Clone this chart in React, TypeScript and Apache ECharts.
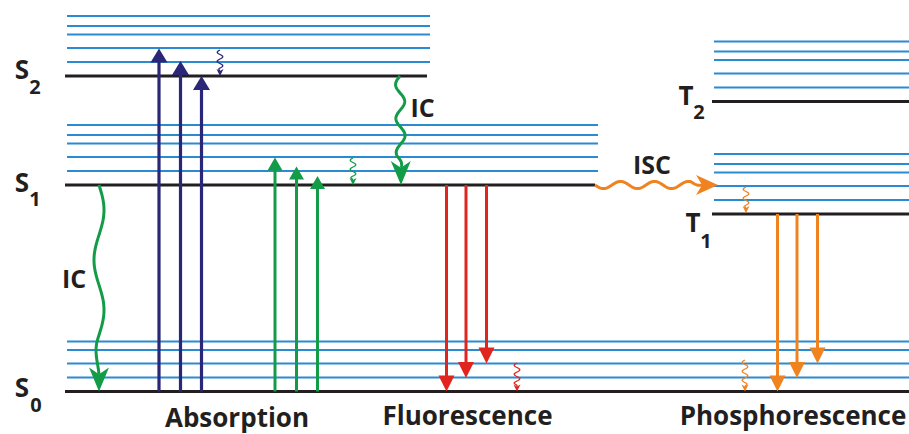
import React, { useEffect, useRef } from "react";
import * as echarts from "echarts";

// ---- Data (x in diagram units, energy in arbitrary units) ----
const levelNames = ["S0", "S1", "S2", "T1", "T2"];
const levelEnergy = [0, 206.5, 315.5, 177.5, 290];
const levelStart = [65, 65, 65, 712, 712];
const levelEnd = [909, 595, 427, 909, 909];
const vibEnd = [909, 598, 430, 909, 909];
const vibOffsets = [14, 28, 41.5, 50, 60];
const vibCounts = [4, 5, 5, 5, 5];

const absS2X = [159, 180.5, 201.5];
const absS2Top = [343, 330.5, 315.5];
const absS1X = [275, 296.5, 317.5];
const absS1Top = [234, 225, 215.5];
const fluorX = [446.5, 466, 486.5];
const fluorBottom = [0, 13.5, 28];
const phosX = [777.5, 797, 817.5];
const phosBottom = [0, 13.5, 28];

// vibrational relaxation
const vrX = [220, 353, 517, 746, 745];
const vrFrom = [341.5, 233.5, 28.5, 204.5, 31.5];
const vrTo = [315.5, 206.5, 0, 178.5, 0];

// internal conversion / intersystem crossing
const icX0 = [400, 99];
const icE0 = [315.5, 206.5];
const icX1 = [401, 99];
const icE1 = [206.5, 0];
const iscX = [595, 718];
const iscE = [206.5, 206.5];

const processLabels = ["Absorption", "Fluorescence", "Phosphorescence"];
const transferLabels = ["IC", "IC", "ISC"];

// ---- Styles ----
const FONT = "'Open Sans', 'Noto Sans', sans-serif";
const BLACK = "#231f20";
const BLUE = "#2a8bd2";
const NAVY = "#2a2778";
const GREEN = "#129c48";
const RED = "#e0251f";
const ORANGE = "#ef8320";
const vrColors = [NAVY, GREEN, RED, ORANGE, ORANGE];

const labelX = [22, 22, 22, 693, 686];
const labelDy = [-5, -3, -7, 8, -7];
const subDx = [14, 13, 13, 13, 13];
const subDy = [13, 13, 10, 26, 10];

function arrowHead(p1: number[], ux: number, uy: number, hl: number, hw: number, notch: boolean) {
  const px = -uy, py = ux;
  const bx = p1[0] - ux * hl, by = p1[1] - uy * hl;
  const c1 = [bx + (px * hw) / 2, by + (py * hw) / 2];
  const c2 = [bx - (px * hw) / 2, by - (py * hw) / 2];
  if (notch) {
    const n = [p1[0] - ux * hl * 0.72, p1[1] - uy * hl * 0.72];
    return [[p1[0], p1[1]], c1, n, c2];
  }
  return [[p1[0], p1[1]], c1, c2];
}

function straightArrow(p0: number[], p1: number[], color: string, lw: number, hl: number, hw: number) {
  const dx = p1[0] - p0[0], dy = p1[1] - p0[1];
  const L = Math.hypot(dx, dy) || 1;
  const ux = dx / L, uy = dy / L;
  const ex = p1[0] - ux * (hl - 1), ey = p1[1] - uy * (hl - 1);
  return {
    type: "group",
    children: [
      { type: "line", shape: { x1: p0[0], y1: p0[1], x2: ex, y2: ey }, style: { stroke: color, lineWidth: lw } },
      { type: "polygon", shape: { points: arrowHead(p1, ux, uy, hl, hw, false) }, style: { fill: color } },
    ],
  };
}

function wavyArrow(p0: number[], p1: number[], color: string, lw: number, amp: number, wl: number, hl: number, hw: number) {
  const dx = p1[0] - p0[0], dy = p1[1] - p0[1];
  const L = Math.hypot(dx, dy) || 1;
  const ux = dx / L, uy = dy / L;
  const px = -uy, py = ux;
  const bodyLen = L - hl * 0.72;
  const n = Math.max(8, Math.ceil(bodyLen * 2));
  const pts: number[][] = [];
  for (let i = 0; i <= n; i++) {
    const t = (bodyLen * i) / n;
    const env = Math.min(1, (bodyLen - t) / (wl / 3));
    const off = amp * Math.sin((2 * Math.PI * t) / wl) * env;
    pts.push([p0[0] + ux * t + px * off, p0[1] + uy * t + py * off]);
  }
  return {
    type: "group",
    children: [
      { type: "polyline", shape: { points: pts }, style: { stroke: color, lineWidth: lw, fill: "none", lineJoin: "round" } },
      { type: "polygon", shape: { points: arrowHead(p1, ux, uy, hl, hw, true) }, style: { fill: color } },
    ],
  };
}

function arrowSeries(xs: number[], from: number[], to: number[], color: string, lw: number, hl: number, hw: number) {
  return {
    type: "custom",
    coordinateSystem: "cartesian2d",
    silent: true,
    data: xs.map((x, i) => [x, from[i], to[i]]),
    renderItem: (_params: any, api: any) => {
      const p0 = api.coord([api.value(0), api.value(1)]);
      const p1 = api.coord([api.value(0), api.value(2)]);
      return straightArrow(p0, p1, color, lw, hl, hw);
    },
  };
}

export default function App() {
  const ref = useRef<HTMLDivElement>(null);
  useEffect(() => {
    if (!ref.current) return;
    const chart = echarts.init(ref.current, null, { renderer: "svg" });
    const textStyle = (text: string, size: number) => ({
      text,
      fill: BLACK,
      fontSize: size,
      fontWeight: "bold",
      fontFamily: FONT,
      align: "center",
      verticalAlign: "middle",
    });

    const levelSeries = {
      type: "custom",
      coordinateSystem: "cartesian2d",
      silent: true,
      data: levelNames.map((_, i) => [levelStart[i], levelEnd[i], levelEnergy[i], vibEnd[i], vibCounts[i]]),
      renderItem: (params: any, api: any) => {
        const i = params.dataIndex;
        const x0 = api.value(0), x1 = api.value(1), e = api.value(2), xv = api.value(3), nv = api.value(4);
        const children: any[] = [];
        for (let k = 0; k < nv; k++) {
          const a = api.coord([x0 + 2, e + vibOffsets[k]]);
          const b = api.coord([xv, e + vibOffsets[k]]);
          children.push({ type: "line", shape: { x1: a[0], y1: a[1], x2: b[0], y2: b[1] }, style: { stroke: BLUE, lineWidth: 2 } });
        }
        const a = api.coord([x0, e]);
        const b = api.coord([x1, e]);
        children.push({ type: "line", shape: { x1: a[0], y1: a[1], x2: b[0], y2: b[1] }, style: { stroke: BLACK, lineWidth: 3 } });
        const name = levelNames[i];
        const anchor = api.coord([labelX[i], e]);
        children.push({ type: "text", x: anchor[0], y: anchor[1] + labelDy[i], style: textStyle(name[0], 26) });
        children.push({ type: "text", x: anchor[0] + subDx[i], y: anchor[1] + subDy[i], style: textStyle(name[1], 20) });
        return { type: "group", children };
      },
    };

    const vrSeries = {
      type: "custom",
      coordinateSystem: "cartesian2d",
      silent: true,
      data: vrX.map((x, i) => [x, vrFrom[i], vrTo[i]]),
      renderItem: (params: any, api: any) => {
        const p0 = api.coord([api.value(0), api.value(1)]);
        const p1 = api.coord([api.value(0), api.value(2)]);
        return wavyArrow(p0, p1, vrColors[params.dataIndex], 1.3, 2.8, 9, 7, 7);
      },
    };

    const icAmp = [4.5, -5];
    const icWl = [34, 100];
    const icSeries = {
      type: "custom",
      coordinateSystem: "cartesian2d",
      silent: true,
      data: icX0.map((x, i) => [x, icE0[i], icX1[i], icE1[i]]),
      renderItem: (params: any, api: any) => {
        const i = params.dataIndex;
        const p0 = api.coord([api.value(0), api.value(1)]);
        const p1 = api.coord([api.value(2), api.value(3)]);
        return wavyArrow(p0, p1, GREEN, 3, icAmp[i], icWl[i], 24, 20);
      },
    };

    const iscSeries = {
      type: "custom",
      coordinateSystem: "cartesian2d",
      silent: true,
      data: [[iscX[0], iscE[0], iscX[1], iscE[1]]],
      renderItem: (_params: any, api: any) => {
        const p0 = api.coord([api.value(0), api.value(1)]);
        const p1 = api.coord([api.value(2), api.value(3)]);
        return wavyArrow(p0, p1, ORANGE, 3, 3.6, 34, 22, 20);
      },
    };

    chart.setOption({
      animation: false,
      backgroundColor: "#ffffff",
      grid: { left: 0, right: 0, top: 0, bottom: 0 },
      xAxis: { type: "value", min: 0, max: 909, show: false },
      yAxis: { type: "value", min: -42.5, max: 391.5, show: false },
      series: [
        levelSeries,
        arrowSeries(absS2X, [0, 0, 0], absS2Top, NAVY, 3.2, 14, 17),
        arrowSeries(absS1X, [0, 0, 0], absS1Top, GREEN, 3, 13, 15),
        arrowSeries(fluorX, [206.5, 206.5, 206.5], fluorBottom, RED, 3, 16, 16),
        arrowSeries(phosX, [177.5, 177.5, 177.5], phosBottom, ORANGE, 3, 16, 16),
        vrSeries,
        icSeries,
        iscSeries,
      ],
      graphic: [
        { type: "text", x: 237, y: 417, style: textStyle(processLabels[0], 26) },
        { type: "text", x: 467.5, y: 415, style: textStyle(processLabels[1], 26) },
        { type: "text", x: 793, y: 415, style: textStyle(processLabels[2], 26) },
        { type: "text", x: 422.5, y: 106.5, style: textStyle(transferLabels[0], 25) },
        { type: "text", x: 74, y: 278, style: textStyle(transferLabels[1], 25) },
        { type: "text", x: 652, y: 163.5, style: textStyle(transferLabels[2], 25) },
      ],
    });
    return () => chart.dispose();
  }, []);
  return <div ref={ref} style={{ position: "absolute", left: 0, top: 0, width: 909, height: 434 }} />;
}
